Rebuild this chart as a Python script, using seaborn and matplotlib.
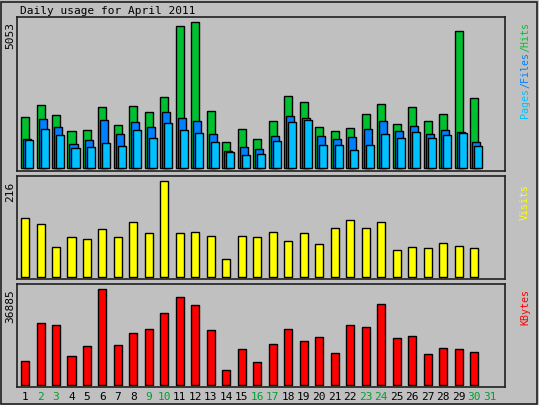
import matplotlib
matplotlib.use("Agg")
import matplotlib.pyplot as plt
import seaborn as sns
import numpy as np
import pandas as pd
from matplotlib.patches import Rectangle

days = list(range(1, 31))
tick_labels = [str(d) for d in range(1, 32)]
weekend = [2, 3, 9, 10, 16, 17, 23, 24, 30, 31]
hits = [1785, 2167, 1854, 1298, 1333, 2098, 1507, 2133, 1924, 2445, 4914, 5053, 1993, 916, 1368,
        1020, 1646, 2480, 2272, 1437, 1298, 1402, 1889, 2202, 1541, 2098, 1646, 1889, 4740, 2411]
files = [1020, 1715, 1437, 846, 985, 1681, 1194, 1611, 1437, 1924, 1750, 1646, 1194, 603, 742,
         672, 1124, 1820, 1750, 1124, 1020, 1089, 1368, 1646, 1298, 1472, 1194, 1333, 1263, 916]
pages = [985, 1368, 1159, 707, 742, 881, 776, 1333, 1055, 1576, 1333, 1229, 916, 568, 464,
         498, 950, 1611, 1681, 811, 811, 637, 811, 1194, 1055, 1263, 1055, 1159, 1229, 776]
visits = [132, 120, 68, 91, 86, 107, 89, 123, 98, 216, 100, 102, 93, 41, 93,
          89, 102, 82, 100, 75, 111, 127, 111, 123, 61, 68, 66, 77, 70, 66]
kbytes = [9415, 23730, 22957, 10962, 14832, 36885, 15218, 19861, 21409, 27600, 33790, 30695, 21022, 5933, 13671,
          9028, 15605, 21409, 16766, 18314, 12123, 22957, 22183, 31082, 17927, 18701, 11736, 14058, 13671, 12510]

W, H = 539, 405
BG = "#c0c0c0"
plt.rcParams['font.family'] = ['DejaVu Sans Mono']
fig = plt.figure(figsize=(W / 100, H / 100), dpi=100, facecolor=BG)
fig.patches.append(Rectangle((1 / W, 1 / H), 1 - 3 / W, 1 - 3 / H, transform=fig.transFigure,
                             fill=False, edgecolor="#202020", linewidth=1.2))

def ax_at(x0, y0, x1, y1):
    ax = fig.add_axes([x0 / W, 1 - y1 / H, (x1 - x0) / W, (y1 - y0) / H])
    ax.set_facecolor(BG)
    for s in ax.spines.values():
        s.set_linewidth(1.2)
        s.set_color("#202020")
    return ax

XL = (0.48, 32.0)
d = np.array(days, dtype=float)
bw = 0.52
off = 2 / 15.48

def bars(ax, xs, vals, color):
    sns.barplot(x=xs, y=vals, native_scale=True, width=bw, color=color, saturation=1,
                edgecolor="black", linewidth=1, ax=ax)

ax1 = ax_at(17, 17, 505, 171)
bars(ax1, d, hits, "#00c030")
bars(ax1, d + off, files, "#0080ff")
bars(ax1, d + 2 * off, pages, "#00c0ff")
ax1.set_xlim(*XL); ax1.set_ylim(-5053 * 0.02, 5053 * 1.035)

ax2 = ax_at(17, 176, 505, 279)
bars(ax2, d, visits, "#ffff00")
ax2.set_xlim(*XL); ax2.set_ylim(-216 * 0.02, 216 * 1.05)

ax3 = ax_at(17, 284, 505, 387)
bars(ax3, d, kbytes, "#ff0000")
ax3.set_xlim(*XL); ax3.set_ylim(-36885 * 0.02, 36885 * 1.05)
for ax in (ax1, ax2, ax3):
    ax.set_xticks([]); ax.set_yticks([]); ax.set_xlabel(""); ax.set_ylabel("")

for i, lab in enumerate(tick_labels):
    c = "#00a030" if int(lab) in weekend else "black"
    ax3.text(i + 1, -0.045, lab, transform=ax3.get_xaxis_transform(), ha="center", va="top",
             fontsize=8, color=c)

fig.text(20 / W, 1 - 11 / H, "Daily usage for April 2011", fontsize=8, va="center", ha="left")
def ft(x, y, s, c, va="top", fs=8):
    fig.text(x / W, 1 - y / H, s, rotation=90, fontsize=fs, color=c, ha="center", va=va)
ft(10, 22, "5053", "black")
ft(10, 182, "216", "black")
ft(10, 289, "36885", "black")
ft(525, 118, "Pages", "#00c0ff", va="bottom", fs=7.2)
ft(525, 88, "/Files", "#0080ff", va="bottom", fs=7.2)
ft(525, 52, "/Hits", "#00c030", va="bottom", fs=7.2)
ft(525, 220, "Visits", "#ffff00", va="bottom", fs=7.2)
ft(525, 325, "KBytes", "#ff0000", va="bottom", fs=7.2)

fig.savefig("out.png", dpi=100, facecolor=BG)
